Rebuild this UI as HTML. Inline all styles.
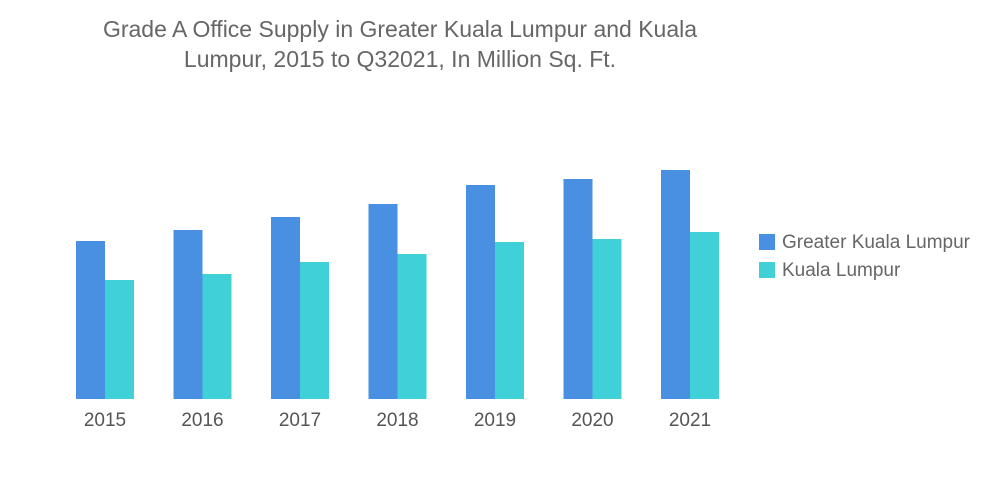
<!DOCTYPE html>
<html><head><meta charset="utf-8"><style>
body{margin:0;width:1000px;height:504px;background:#fff;font-family:"Liberation Sans",sans-serif;overflow:hidden;position:relative}
#title{position:absolute;left:0;width:800px;top:14px;text-align:center;font-size:23px;line-height:30px;color:#666}
.leg{position:absolute;left:759px;font-size:19px;color:#666;line-height:17px}
.leg span{display:inline-block;width:16px;height:16px;vertical-align:top;margin-right:7px}
</style></head><body>
<div id="title">Grade A Office Supply in Greater Kuala Lumpur and Kuala<br>Lumpur, 2015 to Q32021, In Million Sq. Ft.</div>
<svg id="chart" width="1000" height="504" style="position:absolute;left:0;top:0"></svg>
<div class="leg" style="top:234px"><span style="background:#4a90e2"></span>Greater Kuala Lumpur</div>
<div class="leg" style="top:262px"><span style="background:#40d0d8"></span>Kuala Lumpur</div>
<script>
const categories=["2015","2016","2017","2018","2019","2020","2021"];
const greaterKL=[7.9,8.45,9.1,9.75,10.7,11.0,11.45];
const kualaLumpur=[5.95,6.25,6.85,7.25,7.85,8.0,8.35];
const svg=document.getElementById('chart');
const NS='http://www.w3.org/2000/svg';
const base=399,pxPerUnit=20,x0=76,step=97.5,bw=29;
function yScale(v){return base-v*pxPerUnit;}
function xScale(i){return x0+i*step;}
function bar(x,v,c,n){const r=document.createElementNS(NS,'rect');
r.setAttribute('x',x);r.setAttribute('y',yScale(v));r.setAttribute('width',bw);r.setAttribute('height',base-yScale(v));r.setAttribute('fill',c);


svg.appendChild(r);}
categories.forEach((c,i)=>{
bar(xScale(i),greaterKL[i],'#4a90e2','bar-greater-kl-'+c);
bar(xScale(i)+bw,kualaLumpur[i],'#40d0d8','bar-kl-'+c);
const t=document.createElementNS(NS,'text');
t.setAttribute('x',xScale(i)+bw);t.setAttribute('y',426);t.setAttribute('text-anchor','middle');
t.setAttribute('font-size','19');t.setAttribute('fill','#555');t.setAttribute('font-family','Liberation Sans, sans-serif');
t.textContent=c;


svg.appendChild(t);});
</script>
</body></html>
